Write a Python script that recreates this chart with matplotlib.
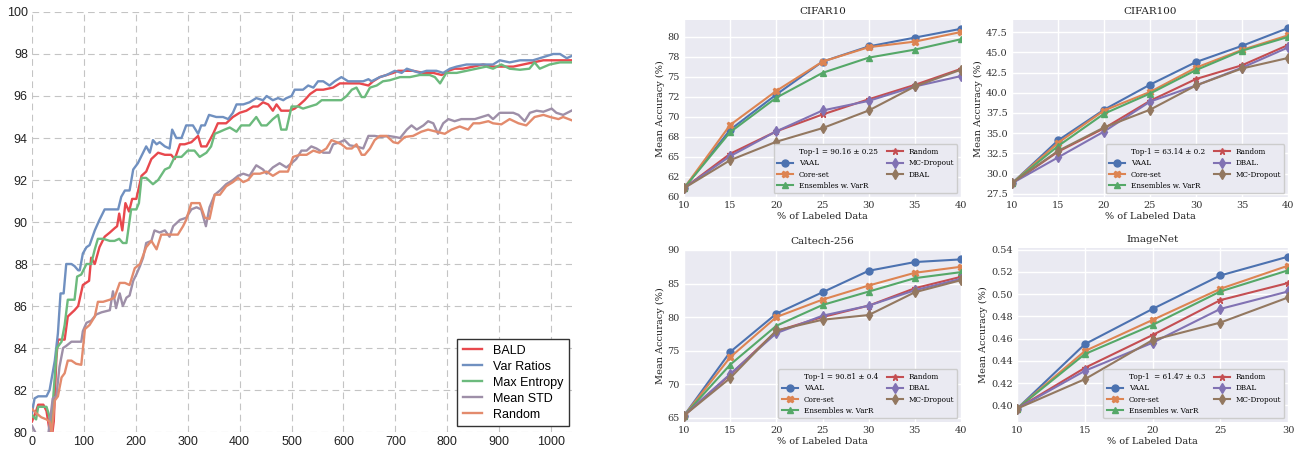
import matplotlib
matplotlib.use('Agg')
import matplotlib.pyplot as plt
from matplotlib.lines import Line2D
from matplotlib.ticker import MultipleLocator, FormatStrFormatter

bald = [(0, 80.5), (8, 81.0), (12, 81.3), (22, 81.3), (28, 81.0), (33, 80.2), (37, 79.5), (42, 80.5),
        (47, 83.5), (50, 84.4), (63, 84.4), (69, 85.5), (82, 85.8), (89, 86.0), (98, 87.0), (110, 87.2),
        (114, 88.3), (121, 88.0), (130, 88.8), (140, 89.3), (150, 89.5), (159, 89.7), (164, 89.8),
        (168, 90.4), (174, 89.6), (180, 90.9), (187, 90.5), (193, 91.1), (201, 91.1), (211, 92.2),
        (220, 92.4), (230, 93.0), (243, 93.3), (256, 93.2), (268, 93.2), (275, 93.0), (285, 93.7),
        (294, 93.7), (307, 93.8), (320, 94.1), (326, 93.6), (336, 93.6), (349, 94.2), (358, 94.7),
        (374, 94.7), (387, 95.0), (400, 95.2), (413, 95.3), (426, 95.5), (435, 95.5), (445, 95.7),
        (455, 95.6), (464, 95.3), (471, 95.6), (480, 95.3), (496, 95.3), (506, 95.4), (516, 95.6),
        (525, 95.8), (536, 96.1), (548, 96.3), (561, 96.3), (580, 96.4), (593, 96.6), (615, 96.6),
        (631, 96.6), (648, 96.5), (657, 96.7), (670, 96.9), (683, 97.0), (696, 97.1), (705, 97.2),
        (718, 97.2), (734, 97.2), (754, 97.1), (773, 97.1), (789, 97.0), (802, 97.2), (814, 97.3),
        (830, 97.3), (850, 97.4), (869, 97.5), (888, 97.4), (908, 97.4), (927, 97.4), (946, 97.5),
        (965, 97.6), (985, 97.7), (1004, 97.7), (1023, 97.7), (1039, 97.7)]

var_ratios = [(0, 80.9), (5, 81.6), (12, 81.7), (28, 81.7), (34, 82.0), (44, 83.4), (50, 84.7),
              (55, 86.6), (61, 86.6), (66, 88.0), (76, 88.0), (82, 87.9), (89, 87.7), (92, 87.7),
              (98, 88.5), (105, 88.8), (111, 88.9), (121, 89.6), (130, 90.1), (140, 90.6), (150, 90.6),
              (166, 90.6), (172, 91.2), (179, 91.5), (188, 91.5), (195, 92.5), (204, 92.8), (214, 93.3),
              (220, 93.6), (227, 93.3), (233, 93.9), (240, 93.7), (246, 93.8), (256, 93.6), (265, 93.5),
              (270, 94.4), (278, 94.0), (288, 94.0), (297, 94.6), (310, 94.6), (320, 94.2), (326, 94.6),
              (333, 94.6), (341, 95.1), (355, 95.0), (368, 95.0), (378, 94.9), (387, 95.2), (394, 95.6),
              (407, 95.6), (419, 95.7), (432, 95.9), (445, 95.8), (452, 96.0), (464, 95.8), (474, 95.9),
              (484, 95.8), (490, 95.9), (500, 96.0), (506, 96.3), (516, 96.3), (522, 96.3), (532, 96.5),
              (542, 96.4), (551, 96.7), (561, 96.7), (573, 96.5), (583, 96.7), (596, 96.9), (609, 96.7),
              (618, 96.7), (638, 96.7), (648, 96.8), (654, 96.7), (670, 96.9), (683, 97.0), (699, 97.2),
              (712, 97.1), (722, 97.3), (734, 97.2), (747, 97.1), (760, 97.2), (779, 97.2), (792, 97.1),
              (805, 97.3), (818, 97.4), (837, 97.5), (850, 97.5), (869, 97.5), (888, 97.5), (901, 97.7),
              (920, 97.6), (940, 97.7), (952, 97.7), (965, 97.7), (978, 97.8), (991, 97.9), (1004, 98.0),
              (1017, 98.0), (1030, 97.8), (1039, 97.9)]

max_entropy = [(0, 80.8), (8, 80.6), (12, 81.2), (28, 81.2), (33, 80.8), (37, 80.3), (42, 82.0),
               (48, 84.0), (57, 84.3), (63, 85.1), (69, 86.3), (82, 86.3), (87, 87.4), (95, 87.5),
               (105, 88.0), (114, 88.0), (121, 88.7), (127, 89.2), (137, 89.2), (150, 89.1), (159, 89.1),
               (168, 89.2), (175, 89.0), (182, 89.0), (191, 90.6), (201, 90.6), (206, 90.9), (211, 92.1),
               (220, 92.1), (233, 91.8), (243, 92.0), (256, 92.5), (265, 92.6), (275, 93.1), (288, 93.1),
               (300, 93.4), (313, 93.4), (323, 93.1), (336, 93.3), (345, 93.6), (352, 94.2), (362, 94.3),
               (371, 94.4), (381, 94.5), (394, 94.3), (403, 94.6), (419, 94.6), (432, 95.0), (442, 94.6),
               (452, 94.6), (464, 94.9), (474, 95.1), (480, 94.4), (490, 94.4), (500, 95.5), (513, 95.5),
               (522, 95.4), (535, 95.5), (548, 95.6), (558, 95.8), (573, 95.8), (596, 95.8), (606, 96.0),
               (616, 96.3), (625, 96.4), (635, 95.95), (641, 95.95), (651, 96.4), (664, 96.5), (676, 96.7),
               (689, 96.75), (709, 96.9), (728, 96.9), (747, 97.0), (766, 97.0), (776, 96.9), (786, 96.6),
               (798, 97.1), (818, 97.1), (837, 97.2), (856, 97.3), (875, 97.4), (888, 97.3), (904, 97.5),
               (920, 97.3), (940, 97.25), (958, 97.3), (968, 97.6), (978, 97.3), (997, 97.5), (1017, 97.6),
               (1039, 97.6)]

mean_std = [(0, 80.3), (8, 79.9), (20, 79.5), (30, 79.6), (36, 80.8), (40, 81.6), (47, 81.7), (53, 83.1),
            (60, 84.0), (66, 84.1), (76, 84.3), (95, 84.3), (98, 84.8), (105, 85.2), (114, 85.3),
            (124, 85.6), (134, 85.7), (150, 85.8), (156, 86.7), (162, 85.9), (169, 86.6), (175, 86.0),
            (182, 86.4), (188, 86.5), (195, 87.2), (201, 87.5), (208, 87.9), (214, 88.3), (220, 89.0),
            (230, 89.1), (236, 89.6), (246, 89.5), (256, 89.6), (265, 89.3), (272, 89.8), (285, 90.1),
            (297, 90.2), (307, 90.6), (317, 90.7), (326, 90.6), (335, 89.8), (342, 90.7), (352, 91.3),
            (362, 91.5), (374, 91.8), (387, 92.0), (397, 92.2), (407, 92.3), (419, 92.2), (432, 92.7),
            (445, 92.5), (452, 92.3), (464, 92.6), (477, 92.8), (490, 92.6), (500, 92.8), (509, 93.0),
            (519, 93.4), (529, 93.4), (538, 93.6), (548, 93.5), (561, 93.3), (573, 93.3), (580, 93.7),
            (593, 93.8), (602, 93.9), (612, 93.65), (625, 93.6), (638, 93.5), (648, 94.1), (660, 94.1),
            (673, 94.05), (686, 94.1), (699, 94.05), (709, 94.0), (722, 94.4), (731, 94.6), (741, 94.4),
            (754, 94.6), (763, 94.8), (773, 94.7), (782, 94.2), (792, 94.7), (802, 94.9), (814, 94.8),
            (827, 94.9), (840, 94.9), (853, 94.9), (866, 95.0), (879, 95.1), (888, 94.9), (901, 95.2),
            (914, 95.2), (927, 95.2), (937, 95.1), (949, 94.8), (959, 95.2), (972, 95.3), (985, 95.25),
            (1001, 95.4), (1010, 95.2), (1023, 95.1), (1039, 95.3)]

random_sel = [(0, 81.1), (8, 80.9), (18, 80.7), (28, 80.6), (34, 80.5), (38, 80.0), (44, 81.5), (50, 81.7),
              (57, 82.6), (63, 82.8), (69, 83.4), (76, 83.4), (85, 83.25), (95, 83.2), (102, 84.9),
              (111, 85.1), (121, 85.5), (127, 86.2), (137, 86.2), (150, 86.3), (159, 86.4), (169, 87.1),
              (179, 87.1), (188, 87.0), (198, 87.8), (208, 88.0), (220, 88.8), (230, 89.1), (240, 88.7),
              (249, 89.4), (262, 89.4), (272, 89.4), (281, 89.4), (291, 89.8), (297, 90.1), (307, 90.9),
              (323, 90.9), (333, 90.2), (342, 90.15), (352, 91.3), (362, 91.3), (374, 91.7), (387, 91.9),
              (397, 92.1), (407, 91.9), (416, 92.0), (426, 92.3), (439, 92.3), (452, 92.4), (464, 92.2),
              (477, 92.4), (493, 92.4), (503, 93.1), (516, 93.2), (529, 93.2), (542, 93.4), (554, 93.3),
              (567, 93.5), (577, 93.9), (587, 93.8), (596, 93.7), (606, 93.5), (616, 93.5), (625, 93.7),
              (635, 93.2), (641, 93.2), (651, 93.5), (660, 93.9), (670, 94.1), (683, 94.1), (696, 93.8),
              (705, 93.75), (718, 94.05), (734, 94.1), (750, 94.3), (763, 94.4), (779, 94.3), (795, 94.2),
              (808, 94.4), (824, 94.55), (840, 94.4), (850, 94.7), (862, 94.7), (879, 94.8), (888, 94.7),
              (904, 94.65), (920, 94.9), (937, 94.7), (952, 94.6), (968, 95.0), (985, 95.1), (998, 95.0),
              (1014, 94.9), (1023, 95.0), (1039, 94.85)]

left_series = [("BALD", bald, "#e8484d"),
               ("Var Ratios", var_ratios, "#7090c0"),
               ("Max Entropy", max_entropy, "#6cba7d"),
               ("Mean STD", mean_std, "#9e8fa8"),
               ("Random", random_sel, "#e38b6d")]

# ---- right panels
pct = [10, 15, 20, 25, 30, 35, 40]
pct_imagenet = [10, 15, 20, 25, 30]

c10_vaal = [61.1, 68.4, 72.8, 76.9, 78.8, 79.9, 81.0]
c10_coreset = [61.1, 69.0, 73.25, 76.9, 78.7, 79.4, 80.6]
c10_ens = [61.1, 68.1, 72.4, 75.5, 77.4, 78.4, 79.7]
c10_random = [61.1, 65.4, 68.2, 70.3, 72.2, 74.0, 76.0]
c10_mcdrop = [61.1, 65.1, 68.2, 70.8, 72.0, 73.8, 75.1]
c10_dbal = [61.1, 64.6, 66.9, 68.6, 70.8, 73.8, 75.9]

c100_vaal = [28.8, 34.1, 37.9, 41.0, 43.8, 45.8, 48.0]
c100_coreset = [28.8, 33.8, 37.8, 40.1, 43.1, 45.3, 47.1]
c100_ens = [28.8, 33.4, 37.4, 39.9, 42.8, 45.2, 46.9]
c100_random = [28.8, 32.7, 35.6, 39.0, 41.7, 43.4, 45.9]
c100_dbal = [28.8, 32.0, 35.2, 38.9, 40.9, 43.1, 45.6]
c100_mcdrop = [28.8, 32.8, 35.7, 37.9, 40.9, 43.0, 44.3]

cal_vaal = [65.3, 74.8, 80.5, 83.7, 86.9, 88.2, 88.6]
cal_coreset = [65.3, 74.0, 80.0, 82.6, 84.7, 86.6, 87.5]
cal_ens = [65.3, 72.9, 78.7, 81.8, 83.8, 85.8, 86.7]
cal_random = [65.3, 71.4, 77.9, 80.0, 81.7, 84.3, 86.0]
cal_dbal = [65.3, 71.5, 77.6, 80.2, 81.7, 84.0, 85.7]
cal_mcdrop = [65.3, 70.9, 78.0, 79.6, 80.3, 83.7, 85.5]

img_vaal = [0.397, 0.455, 0.4867, 0.5168, 0.5337]
img_coreset = [0.397, 0.4488, 0.4768, 0.5048, 0.5256]
img_ens = [0.397, 0.4461, 0.4723, 0.5024, 0.5214]
img_random = [0.397, 0.4337, 0.4632, 0.4946, 0.5100]
img_dbal = [0.397, 0.431, 0.4563, 0.4867, 0.5024]
img_mcdrop = [0.397, 0.4235, 0.4587, 0.4744, 0.4970]

deep = ["#4C72B0", "#DD8452", "#55A868", "#C44E52", "#8172B3", "#937860"]
markers = ["o", "X", "^", "*", "d", "d"]

panels = [
    ("CIFAR10", pct, [c10_vaal, c10_coreset, c10_ens, c10_random, c10_mcdrop, c10_dbal],
     ["VAAL", "Core-set", "Ensembles w. VarR", "Random", "MC-Dropout", "DBAL"],
     "Top-1 = 90.16 \u00b1 0.25", (60, 82.1), 2.5, "%.0f",
     [0.5286, 0.5632, 0.2141, 0.3925]),
    ("CIFAR100", pct, [c100_vaal, c100_coreset, c100_ens, c100_random, c100_dbal, c100_mcdrop],
     ["VAAL", "Core-set", "Ensembles w. VarR", "Random", "DBAL.", "MC-Dropout"],
     "Top-1 = 63.14 \u00b1 0.2", (27.1, 49.0), 2.5, "%.1f",
     [0.7821, 0.5632, 0.2133, 0.3925]),
    ("Caltech-256", pct, [cal_vaal, cal_coreset, cal_ens, cal_random, cal_dbal, cal_mcdrop],
     ["VAAL", "Core-set", "Ensembles w. VarR", "Random", "DBAL", "MC-Dropout"],
     "Top-1 = 90.81 \u00b1 0.4", (64.35, 90.0), 5, "%.0f",
     [0.5286, 0.0643, 0.2141, 0.3814]),
    ("ImageNet", pct_imagenet, [img_vaal, img_coreset, img_ens, img_random, img_dbal, img_mcdrop],
     ["VAAL", "Core-set", "Ensembles w. VarR", "Random", "DBAL", "MC-Dropout"],
     "Top-1  = 61.47 \u00b1 0.3", (0.385, 0.5415), 0.02, "%.2f",
     [0.786, 0.0643, 0.2094, 0.3858]),
]

fig = plt.figure(figsize=(12.94, 4.51), dpi=100)

# left plot
sans = "Liberation Sans"
ax = fig.add_axes([0.0247, 0.0421, 0.4173, 0.9313])
for name, pts, col in left_series:
    xs = [p[0] for p in pts]
    ys = [p[1] for p in pts]
    ax.plot(xs, ys, color=col, lw=1.7, label=name)
ax.set_xlim(0, 1040)
ax.set_ylim(80, 100)
ax.xaxis.set_major_locator(MultipleLocator(100))
ax.yaxis.set_major_locator(MultipleLocator(2))
ax.grid(True, color="#c4c4c4", linestyle=(0, (6, 4)), linewidth=0.8)
for s in ax.spines.values():
    s.set_visible(False)
ax.tick_params(length=0, labelsize=9, pad=3, labelcolor="#222222", labelfontfamily=sans)
leg = ax.legend(loc="lower right", prop={"family": sans, "size": 9}, frameon=True, fancybox=False,
                edgecolor="#333333", framealpha=1, labelspacing=0.32,
                handlelength=1.5, handletextpad=0.9, borderpad=0.45, borderaxespad=0,
                bbox_to_anchor=(0.9944, 0.014))
leg.get_frame().set_linewidth(1.0)

# right plots
serif = "DejaVu Serif"
for title, xs, series, labels, top1, ylim, step, fmt, rect in panels:
    a = fig.add_axes(rect)
    a.set_facecolor("#EAEAF2")
    a.set_axisbelow(True)
    a.grid(True, color="white", linewidth=1.0)
    for s in a.spines.values():
        s.set_visible(False)
    handles = [Line2D([], [], linestyle="none", marker="none", label=top1)]
    for ys, lab, col, mk in zip(series, labels, deep, markers):
        ln, = a.plot(xs, ys, color=col, marker=mk, markersize=5, lw=1.5, label=lab)
        handles.append(ln)
    a.set_xlim(xs[0], xs[-1])
    a.set_ylim(*ylim)
    a.xaxis.set_major_locator(MultipleLocator(5))
    a.yaxis.set_major_locator(MultipleLocator(step))
    a.yaxis.set_major_formatter(FormatStrFormatter(fmt))
    a.tick_params(length=0, labelsize=7, pad=3, labelcolor="#333333", labelfontfamily=serif)
    a.set_title(title, fontsize=7.5, family=serif, pad=4, color="#222222")
    a.set_xlabel("% of Labeled Data", fontsize=7, family=serif, labelpad=1, color="#222222")
    a.set_ylabel("Mean Accuracy (%)", fontsize=7, family=serif, labelpad=2, color="#222222")
    lg = a.legend(handles=handles, loc="lower right", ncol=2, prop={"family": serif, "size": 5.2},
                  frameon=True, facecolor="#EAEAF2", edgecolor="#cccccc", framealpha=1,
                  handlelength=2.2, columnspacing=1.2, labelspacing=0.45, borderpad=0.5)

fig.savefig("out.png", dpi=100)
